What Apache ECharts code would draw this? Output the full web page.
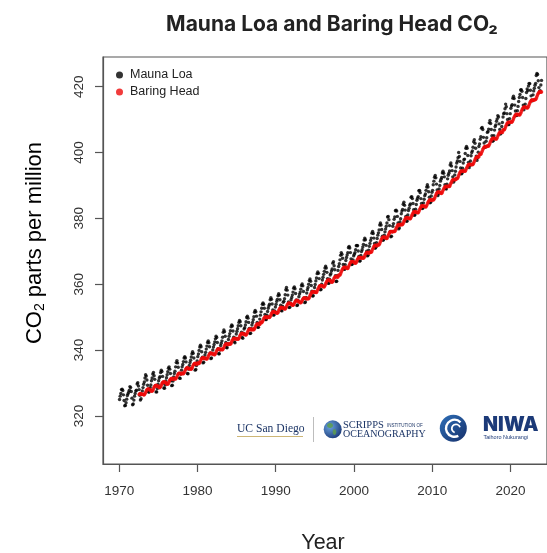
<!DOCTYPE html>
<html><head><meta charset="utf-8">
<script src="https://cdn.jsdelivr.net/npm/echarts@6/dist/echarts.min.js"></script>
<style>html,body{margin:0;padding:0;background:#fff}#c{width:547px;height:553px}</style>
</head><body><div id="c"></div>
<script>
// ---- tick labels ----
const xTicks = [1970, 1980, 1990, 2000, 2010, 2020];
const yTicks = [320, 340, 360, 380, 400, 420];
const seriesNames = ['Mauna Loa', 'Baring Head'];

// ---- Mauna Loa monthly CO2 (ppm), Jan of first year onward ----
const ml1970s = [
325.0,326.0,326.8,328.0,328.1,327.7,326.4,324.7,323.1,323.2,324.0,325.1,
326.2,326.7,327.2,327.8,328.9,328.6,327.4,325.4,323.4,323.6,324.8,326.0,
326.8,327.6,327.8,329.7,330.1,329.1,328.0,326.3,324.8,325.2,326.5,327.6,
328.6,329.6,330.3,331.5,332.5,332.1,330.9,329.3,327.5,327.2,328.2,328.6,
329.4,330.7,331.5,332.7,333.2,332.2,331.1,329.2,327.3,327.3,328.3,329.6,
330.7,331.5,331.9,333.2,333.9,333.5,332.0,330.0,328.5,328.4,329.4,330.6,
331.6,332.5,333.4,334.5,334.9,334.2,332.9,330.7,329.2,329.3,330.6,331.8,
332.9,333.6,334.9,336.2,336.8,336.1,334.8,332.9,331.5,331.4,332.7,333.9,
334.9,335.6,336.5,337.6,338.0,337.6,336.4,334.6,332.9,332.8,334.2,335.3,
336.2,336.9,337.9,338.9,339.5,339.0,337.6,335.7,333.9,334.1,335.3,336.7];
const ml1980s = [
338.0,338.8,339.9,340.9,341.5,341.0,339.5,337.8,336.1,336.3,337.6,338.5,
339.3,340.3,341.2,342.3,342.8,342.2,341.0,339.1,337.4,337.6,338.9,340.0,
340.9,341.7,342.5,343.4,344.2,343.8,342.3,340.4,338.9,338.9,340.0,341.4,
342.1,342.8,343.9,345.4,346.1,345.6,344.2,342.3,340.8,340.7,341.9,343.2,
344.2,345.0,345.9,347.1,347.6,347.3,345.8,343.9,342.5,342.2,343.6,344.9,
345.7,346.5,347.4,348.4,349.0,348.6,347.4,345.4,343.8,343.6,345.1,346.4,
346.8,347.6,348.6,349.9,350.3,349.7,348.4,346.6,345.0,345.1,346.5,347.6,
348.4,349.2,350.1,351.5,352.0,351.6,350.3,348.4,346.9,346.9,348.1,349.4,
350.6,351.6,352.7,353.9,354.3,353.9,352.7,350.8,349.3,349.3,350.6,351.7,
352.7,353.4,353.9,355.3,355.9,355.4,354.0,352.2,350.6,350.7,351.9,353.1];
const ml1990s = [
353.9,354.8,355.4,356.5,357.1,356.7,355.3,353.6,352.0,351.9,353.3,354.5,
354.8,355.6,356.8,358.3,359.0,358.2,356.7,354.6,352.9,353.0,354.2,355.3,
356.0,356.7,357.6,358.8,359.2,358.6,357.2,355.2,353.5,353.7,355.0,356.2,
357.0,357.6,358.5,359.6,360.1,359.5,357.8,355.8,354.4,354.6,356.0,357.3,
358.3,359.0,360.0,361.1,361.6,360.9,359.6,357.9,356.4,356.5,357.8,359.0,
359.9,361.0,361.9,363.2,363.7,363.3,361.7,359.4,358.3,358.4,360.0,361.3,
362.1,363.0,363.9,364.9,365.5,364.9,363.6,361.7,360.3,360.3,361.5,362.8,
363.2,364.0,364.6,366.4,366.8,365.6,364.4,362.6,360.8,360.9,362.6,364.2,
365.4,366.2,367.4,368.8,369.6,369.1,367.9,366.0,364.6,364.5,365.9,367.2,
368.1,368.9,369.6,371.1,371.5,371.0,369.6,367.7,366.0,366.1,367.4,368.6];
const ml2000s = [
369.1,369.6,370.5,371.7,371.8,371.7,370.1,368.4,367.0,367.1,368.7,369.9,
370.5,371.3,372.1,373.4,374.0,373.5,371.8,370.0,368.6,368.8,370.3,371.5,
372.4,373.3,374.0,375.5,376.0,375.4,374.0,372.4,370.9,371.2,372.6,373.9,
374.9,375.6,376.5,378.0,378.6,378.0,376.6,374.6,373.3,373.6,374.9,375.9,
376.8,377.6,378.6,380.4,380.6,379.6,377.8,376.0,374.4,374.6,376.0,377.6,
378.4,379.7,380.4,382.3,382.5,382.2,380.6,378.6,376.8,377.1,378.9,379.9,
381.4,382.2,382.7,384.3,384.9,384.0,382.5,380.6,379.1,379.2,381.0,382.4,
383.1,384.0,384.4,386.4,386.6,386.0,384.5,382.6,380.9,381.1,382.8,384.2,
385.5,386.1,386.6,388.4,388.5,387.8,386.0,384.5,383.0,383.1,384.7,385.8,
386.9,387.4,388.5,389.5,390.2,389.5,388.1,386.4,384.7,384.9,386.8,387.9];
const ml2010s = [
388.5,390.2,391.3,392.5,393.0,392.3,390.4,388.6,386.9,387.4,388.9,390.0,
391.3,391.9,392.4,393.8,394.3,393.7,392.6,390.2,389.1,388.9,390.4,392.0,
393.1,393.7,394.4,396.2,396.8,395.9,394.5,392.6,391.0,391.5,393.2,394.3,
395.6,396.8,397.4,398.4,400.0,398.8,397.3,395.3,393.5,393.7,395.2,396.8,
397.8,398.0,399.7,401.3,401.8,401.3,399.1,397.0,395.4,396.0,397.4,399.0,
400.0,400.5,401.6,403.3,403.9,402.8,401.3,398.9,397.6,398.3,400.1,401.8,
402.6,404.0,404.8,407.4,407.6,407.0,404.6,402.9,401.6,401.7,403.4,404.5,
406.1,406.4,407.1,409.0,409.7,408.8,407.0,405.1,403.4,403.6,405.1,406.8,
407.9,408.4,409.5,410.2,411.2,410.8,408.7,407.0,405.6,405.9,407.9,409.1,
410.8,411.8,412.0,413.3,414.7,413.9,411.8,410.0,408.5,408.5,410.3,411.8];
const ml2020s = [
413.4,414.1,414.5,416.5,417.1,416.4,414.4,412.6,411.3,411.2,412.7,414.0,
415.5,416.7,417.6,419.0,419.1,418.6,416.7,414.4,413.0,413.9,414.7,416.4,
418.2,419.3,418.8,420.2,421.0,420.9,418.9,417.2,415.9,415.7,417.5,418.7,
419.5,420.4,421.0,423.4,424.0,423.7,421.8,419.7,418.5,418.8,420.5,421.9];

// ---- Baring Head monthly CO2 (ppm), starting July 1972 ----
const bhd1970s = [
326.5,326.7,326.8,326.7,326.5,326.6,
326.6,326.4,326.4,326.7,327.1,327.6,327.9,328.1,328.2,328.1,327.9,328.0,
327.7,327.5,327.5,327.8,328.2,328.7,329.0,329.2,329.3,329.2,329.0,329.1,
328.8,328.6,328.6,328.9,329.3,329.8,330.1,330.3,330.4,330.3,330.1,330.2,
329.8,329.6,329.6,329.9,330.4,330.8,331.1,331.3,331.4,331.3,331.1,331.2,
331.4,331.2,331.2,331.5,331.9,332.4,332.7,332.9,333.0,332.9,332.7,332.8,
333.0,332.8,332.8,333.1,333.5,334.0,334.3,334.5,334.7,334.5,334.3,334.4,
334.4,334.2,334.2,334.5,334.9,335.4,335.7,335.9,336.0,335.9,335.7,335.8];
const bhd1980s = [
336.1,335.9,335.9,336.2,336.6,337.1,337.4,337.6,337.7,337.6,337.4,337.5,
337.5,337.3,337.3,337.6,338.0,338.5,338.8,339.0,339.1,339.0,338.8,338.9,
338.8,338.6,338.6,338.9,339.3,339.8,340.1,340.3,340.4,340.3,340.1,340.2,
340.3,340.1,340.1,340.4,340.8,341.3,341.6,341.8,341.9,341.8,341.6,341.7,
342.0,341.8,341.8,342.1,342.5,343.0,343.3,343.5,343.6,343.5,343.3,343.4,
343.5,343.3,343.3,343.6,344.0,344.5,344.8,345.0,345.1,345.0,344.8,344.9,
344.8,344.6,344.6,344.9,345.3,345.8,346.1,346.3,346.4,346.3,346.1,346.2,
346.4,346.2,346.2,346.5,346.9,347.4,347.7,347.9,348.0,347.9,347.7,347.8,
348.5,348.3,348.3,348.6,349.0,349.5,349.8,350.0,350.1,350.0,349.8,349.9,
350.1,349.9,349.9,350.2,350.6,351.1,351.4,351.6,351.7,351.6,351.4,351.5];
const bhd1990s = [
351.4,351.2,351.2,351.5,351.9,352.4,352.7,352.9,353.0,352.9,352.7,352.8,
352.7,352.5,352.5,352.8,353.2,353.7,354.0,354.2,354.3,354.2,354.0,354.1,
353.8,353.6,353.6,353.8,354.2,354.6,354.9,355.0,355.1,355.0,354.8,354.7,
354.6,354.4,354.4,354.6,355.0,355.4,355.7,355.8,355.9,355.8,355.6,355.5,
355.7,355.6,355.6,356.0,356.5,356.9,357.3,357.6,357.7,357.7,357.6,357.6,
357.6,357.5,357.5,357.9,358.4,358.8,359.2,359.5,359.6,359.6,359.5,359.5,
359.3,359.2,359.2,359.6,360.1,360.5,360.9,361.2,361.3,361.3,361.2,361.2,
360.8,360.6,360.6,360.9,361.3,361.8,362.1,362.3,362.4,362.3,362.1,362.2,
362.8,362.7,362.8,363.2,363.7,364.2,364.6,364.9,365.1,365.1,365.0,365.1,
364.9,364.8,364.8,365.2,365.7,366.1,366.5,366.8,366.9,366.9,366.8,366.8];
const bhd2000s = [
366.6,366.4,366.4,366.7,367.1,367.6,367.9,368.1,368.2,368.1,367.9,368.0,
368.1,367.9,367.9,368.2,368.6,369.1,369.4,369.6,369.7,369.6,369.4,369.5,
369.8,369.7,369.7,370.1,370.6,371.0,371.4,371.7,371.8,371.8,371.7,371.7,
372.0,371.9,372.0,372.4,372.9,373.4,373.8,374.1,374.3,374.3,374.2,374.3,
374.0,373.9,373.9,374.3,374.8,375.2,375.6,375.9,376.0,376.0,375.9,375.9,
376.1,376.0,376.0,376.4,376.9,377.3,377.7,378.0,378.1,378.1,378.0,378.0,
378.2,378.1,378.1,378.5,379.0,379.4,379.8,380.1,380.2,380.2,380.1,380.1,
380.0,379.9,379.9,380.3,380.8,381.2,381.6,381.9,382.0,382.0,381.9,381.9,
381.8,381.7,381.7,382.1,382.6,383.0,383.4,383.7,383.8,383.8,383.7,383.7,
383.6,383.5,383.5,383.9,384.4,384.8,385.2,385.5,385.6,385.6,385.5,385.5];
const bhd2010s = [
385.7,385.6,385.7,386.1,386.6,387.1,387.5,387.8,388.0,388.0,387.9,388.0,
387.7,387.6,387.6,388.0,388.5,388.9,389.3,389.6,389.7,389.7,389.6,389.6,
389.8,389.7,389.7,390.1,390.6,391.0,391.4,391.7,391.8,391.8,391.7,391.7,
392.1,392.0,392.1,392.5,393.0,393.5,393.9,394.2,394.4,394.4,394.3,394.4,
394.4,394.3,394.3,394.7,395.2,395.6,396.0,396.3,396.4,396.4,396.3,396.3,
396.4,396.3,396.4,396.8,397.3,397.8,398.2,398.5,398.7,398.7,398.6,398.7,
399.5,399.4,399.5,399.9,400.4,400.9,401.3,401.6,401.8,401.8,401.7,401.8,
402.0,401.9,402.0,402.4,402.9,403.4,403.8,404.1,404.3,404.3,404.2,404.3,
404.2,404.1,404.1,404.5,405.0,405.4,405.8,406.1,406.2,406.2,406.1,406.1,
406.9,406.8,406.9,407.3,407.8,408.3,408.7,409.0,409.2,409.2,409.1,409.2];
const bhd2020s = [
409.3,409.2,409.3,409.7,410.2,410.7,411.1,411.4,411.6,411.6,411.5,411.6,
411.5,411.4,411.5,411.9,412.4,412.9,413.3,413.6,413.8,413.8,413.7,413.8,
413.6,413.5,413.6,414.0,414.5,415.0,415.4,415.7,415.9,415.9,415.8,415.9,
416.1,416.0,416.1,416.5,417.0,417.5,417.9,418.2,418.4,418.4,418.3,418.4];

// month index -> decimal year
function toPoints(startYear, startMonth, values) {
  return values.map((v, i) => [startYear + (startMonth + i + 0.5) / 12, v]);
}
const mlPoints = [].concat(
  toPoints(1970, 0, ml1970s), toPoints(1980, 0, ml1980s), toPoints(1990, 0, ml1990s),
  toPoints(2000, 0, ml2000s), toPoints(2010, 0, ml2010s), toPoints(2020, 0, ml2020s));
const bhdPoints = [].concat(
  toPoints(1972, 6, bhd1970s), toPoints(1980, 0, bhd1980s), toPoints(1990, 0, bhd1990s),
  toPoints(2000, 0, bhd2000s), toPoints(2010, 0, bhd2010s), toPoints(2020, 0, bhd2020s));

const AX = '#555';
const SANS = '"Liberation Sans", Arial, sans-serif';
const SERIF = '"Liberation Serif", "Times New Roman", serif';
const NAVY = '#1c3566';

const chart = echarts.init(document.getElementById('c'), null, {renderer: 'canvas'});
chart.setOption({
  animation: false,
  backgroundColor: '#fff',
  title: {
    text: 'Mauna Loa and Baring Head CO\u2082',
    left: 327, top: 9, textAlign: 'center',
    textStyle: {fontFamily: 'Inter, "Noto Sans", sans-serif', fontWeight: 'bold', fontSize: 21, color: '#222'}
  },
  legend: {
    data: seriesNames,
    orient: 'vertical', left: 111, top: 63, itemGap: 3,
    icon: 'circle', itemWidth: 7, itemHeight: 7,
    textStyle: {fontFamily: SANS, fontSize: 12.5, color: '#222', lineHeight: 14, padding: [0, 0, 0, 2]}
  },
  grid: {left: 103, top: 57, right: -3, bottom: 89, show: true, borderColor: AX, borderWidth: 1.2},
  xAxis: {
    type: 'value', min: 1967.93, max: 2024.66,
    splitLine: {show: false},
    axisLine: {show: true, onZero: false, lineStyle: {color: AX, width: 1.2}},
    axisTick: {show: true, length: 8, customValues: xTicks, lineStyle: {color: AX, width: 1.2}},
    axisLabel: {customValues: xTicks, margin: 20, fontFamily: SANS, fontSize: 13.5, color: '#333',
      formatter: v => String(v)}
  },
  yAxis: {
    type: 'value', min: 305.4, max: 429.0,
    splitLine: {show: false},
    axisLine: {show: true, onZero: false, lineStyle: {color: AX, width: 1.2}},
    axisTick: {show: true, length: 8, customValues: yTicks, lineStyle: {color: AX, width: 1.2}},
    axisLabel: {customValues: yTicks, rotate: 90, margin: 17, fontFamily: SANS, fontSize: 13.5, color: '#333',
      formatter: v => String(v)}
  },
  series: [
    {name: seriesNames[0], type: 'scatter', data: mlPoints, symbol: 'circle', symbolSize: 3.4,
     itemStyle: {color: '#000'}, z: 2},
    {name: seriesNames[1], type: 'scatter', data: bhdPoints, symbol: 'circle', symbolSize: 3.6,
     itemStyle: {color: '#ee0a0a'}, z: 3}
  ],
  graphic: [
    {type: 'text', x: 35, y: 243, rotation: Math.PI / 2,
     style: {text: '{a|CO}{b|2}{a| parts per million}', align: 'center', verticalAlign: 'middle',
       rich: {a: {fontFamily: SANS, fontSize: 22, color: '#222', lineHeight: 25},
              b: {fontFamily: SANS, fontSize: 14, color: '#222', lineHeight: 25, verticalAlign: 'bottom'}}}},
    {type: 'text', x: 323, y: 543,
     style: {text: 'Year', fontFamily: SANS, fontSize: 21.5, fill: '#222', align: 'center', verticalAlign: 'middle'}},
    // UC San Diego
    {type: 'text', x: 237, y: 429,
     style: {text: 'UC San Diego', fontFamily: SERIF, fontSize: 11.6, fill: NAVY, align: 'left', verticalAlign: 'middle'}},
    {type: 'line', shape: {x1: 237, y1: 436.5, x2: 303, y2: 436.5}, style: {stroke: '#cdb676', lineWidth: 1}},
    {type: 'line', shape: {x1: 313.5, y1: 417, x2: 313.5, y2: 442}, style: {stroke: '#bdbdbd', lineWidth: 1}},
    // Scripps globe
    {type: 'circle', shape: {cx: 332.7, cy: 429.3, r: 9},
     style: {fill: new echarts.graphic.RadialGradient(0.35, 0.35, 0.8, [{offset: 0, color: '#6aa3e0'}, {offset: 1, color: '#14306e'}])}},
    {type: 'ellipse', shape: {cx: 330, cy: 425.5, rx: 3, ry: 2.4}, style: {fill: '#5d9b4c', opacity: 0.85}},
    {type: 'ellipse', shape: {cx: 334.5, cy: 432, rx: 1.8, ry: 3}, style: {fill: '#5d9b4c', opacity: 0.85}},
    {type: 'text', x: 343, y: 425,
     style: {text: 'SCRIPPS', fontFamily: SERIF, fontSize: 10.5, fill: NAVY, align: 'left', verticalAlign: 'middle'}},
    {type: 'text', x: 387, y: 425.5,
     style: {text: 'INSTITUTION OF', fontFamily: SANS, fontSize: 4.5, fill: NAVY, align: 'left', verticalAlign: 'middle'}},
    {type: 'text', x: 343, y: 434.5,
     style: {text: 'OCEANOGRAPHY', fontFamily: SERIF, fontSize: 10, fill: NAVY, align: 'left', verticalAlign: 'middle'}},
    // NIWA
    {type: 'circle', shape: {cx: 453.3, cy: 428.3, r: 13.5},
     style: {fill: new echarts.graphic.LinearGradient(0, 0, 1, 1, [{offset: 0, color: '#2d6fb8'}, {offset: 1, color: '#17306a'}])}},
    {type: 'arc', shape: {cx: 454.5, cy: 428.3, r: 8.5, startAngle: Math.PI * 0.35, endAngle: Math.PI * 1.75},
     style: {stroke: '#fff', lineWidth: 2.4, fill: null}},
    {type: 'arc', shape: {cx: 456, cy: 428.5, r: 4.2, startAngle: Math.PI * 0.6, endAngle: Math.PI * 1.9},
     style: {stroke: '#fff', lineWidth: 1.8, fill: null}},
    {type: 'text', x: 483, y: 425,
     style: {text: 'NIWA', fontFamily: 'Inter, sans-serif', fontWeight: 900, fontSize: 19.5, fill: '#1c3a78', align: 'left', verticalAlign: 'middle'}},
    {type: 'text', x: 483.5, y: 437,
     style: {text: 'Taihoro Nukurangi', fontFamily: SANS, fontSize: 5.5, fill: '#1c3a78', align: 'left', verticalAlign: 'middle'}}
  ]
});
</script>
</body></html>
